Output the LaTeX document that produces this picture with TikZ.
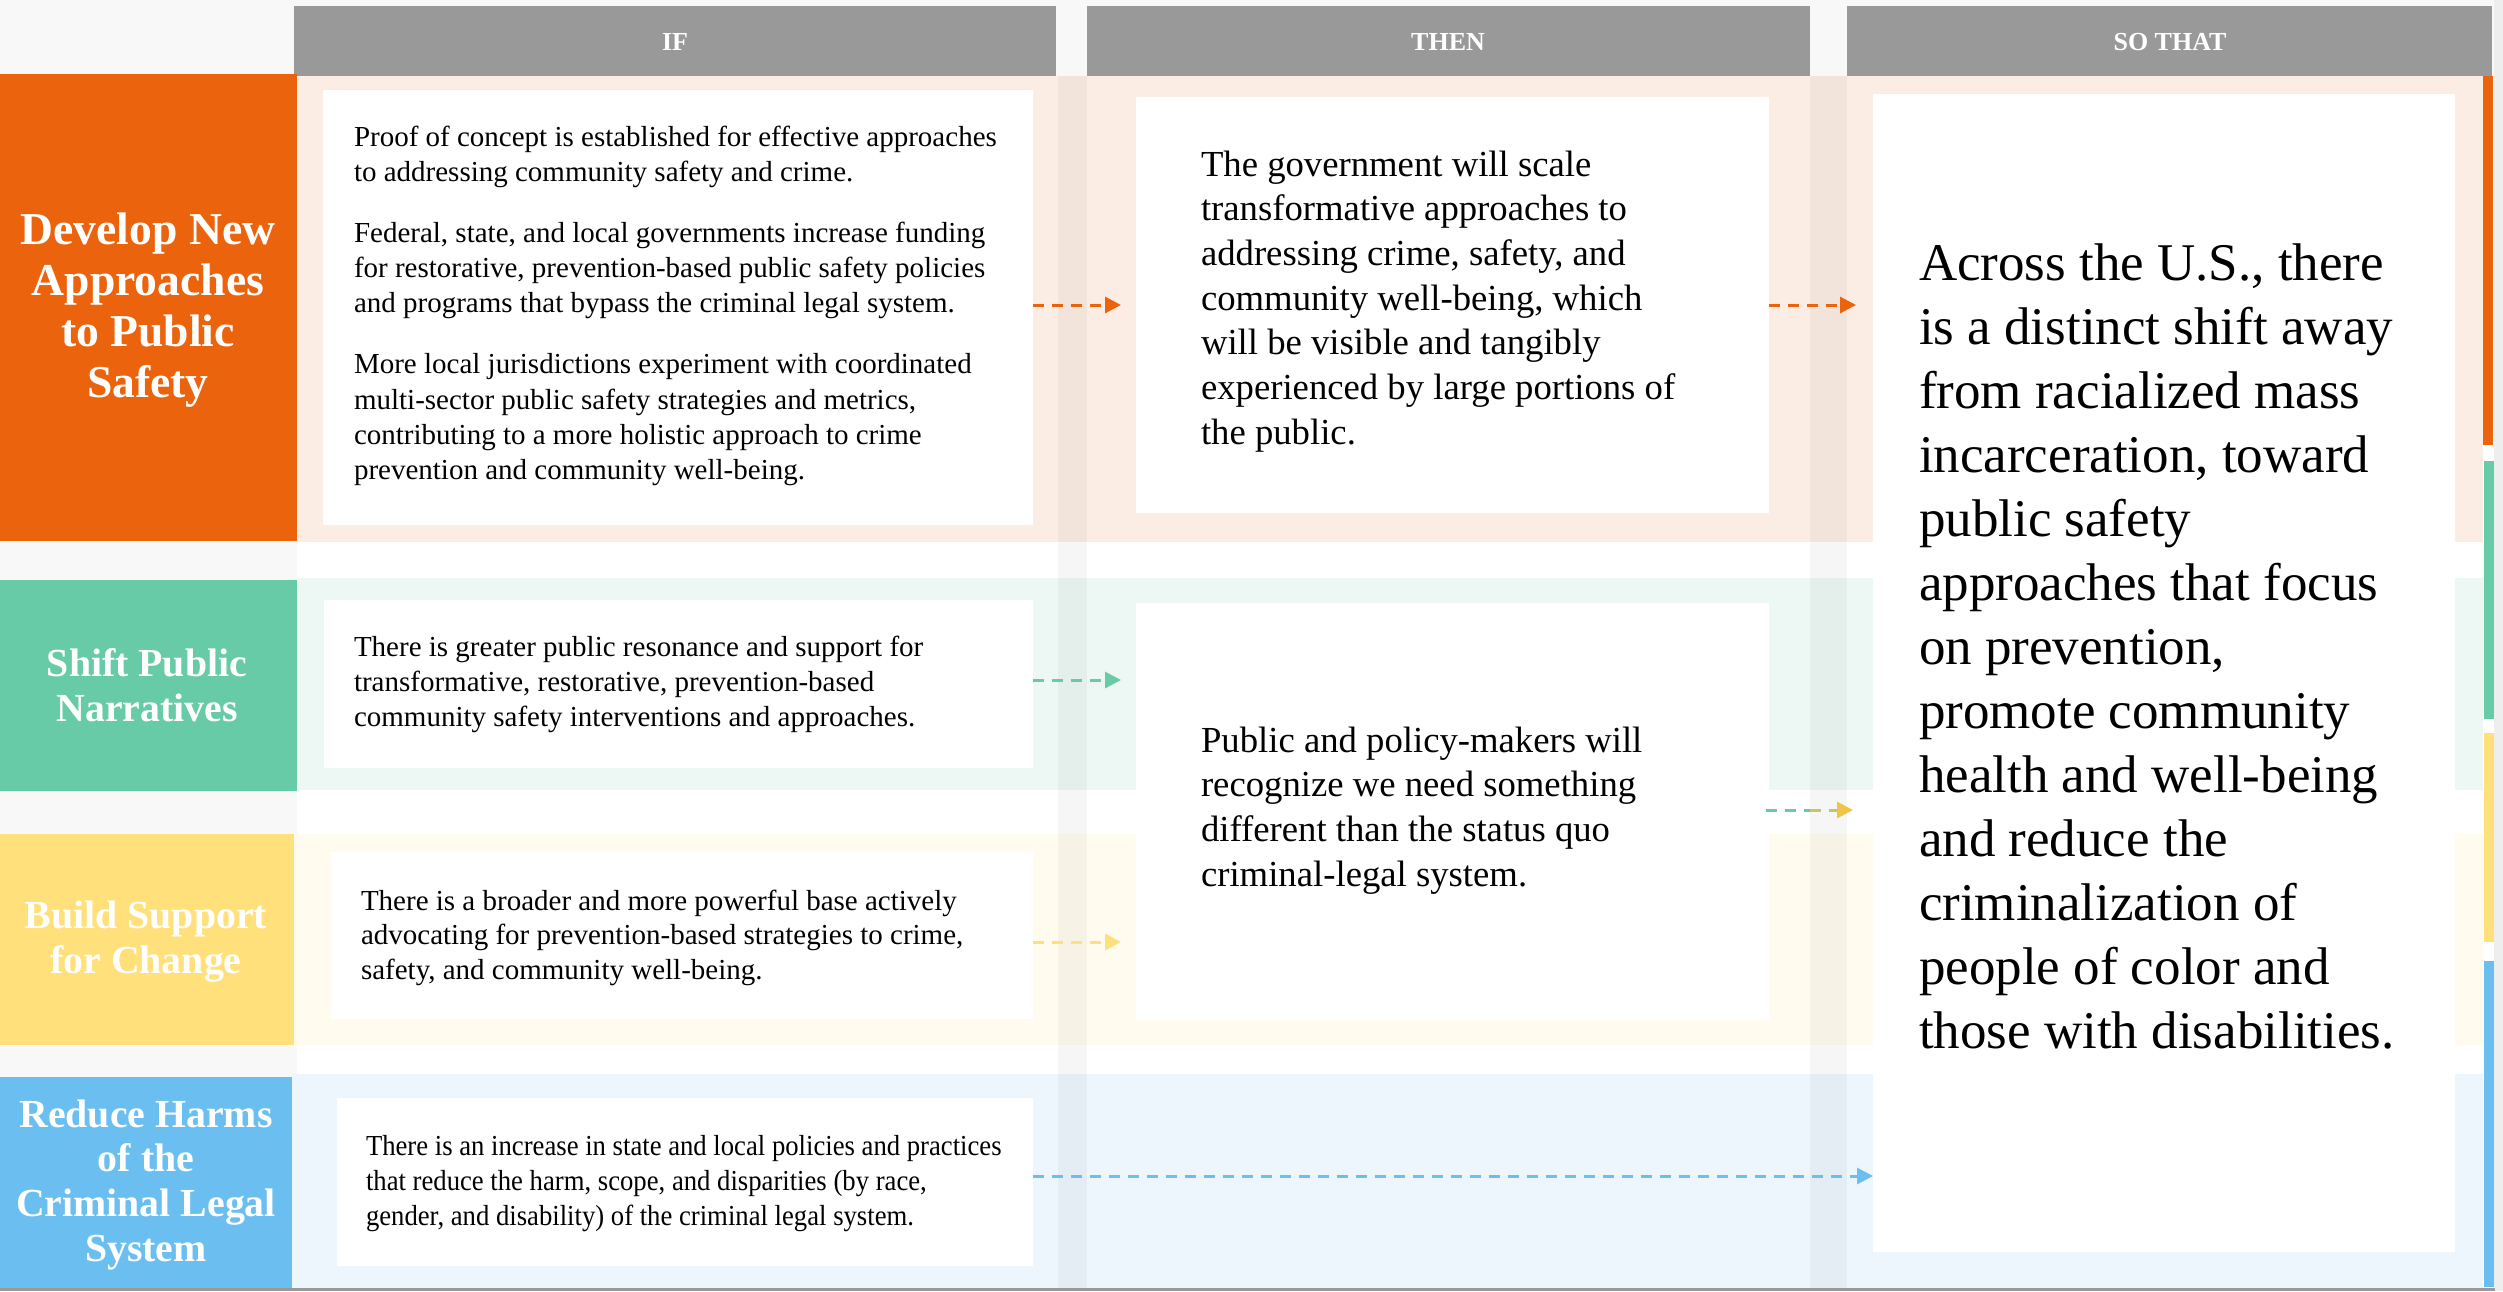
\documentclass[tikz,border=0pt]{standalone}
\usepackage{fontspec}
\setmainfont{Liberation Serif}
\newfontfamily\condserif{Liberation Serif}[FakeStretch=0.92]
\usetikzlibrary{arrows.meta,fit,calc}
\definecolor{hdrgray}{HTML}{999999}
\definecolor{orangeA}{HTML}{EC630D}
\definecolor{greenA}{HTML}{66CBA6}
\definecolor{yellowA}{HTML}{FFE07A}
\definecolor{blueA}{HTML}{6BBEF0}
\definecolor{orangeL}{HTML}{FBEDE4}
\definecolor{greenL}{HTML}{EDF7F3}
\definecolor{yellowL}{HTML}{FFFBEF}
\definecolor{blueL}{HTML}{EEF6FD}
\definecolor{bggray}{HTML}{F8F8F8}
\definecolor{rmgray}{HTML}{EEEEEE}
\definecolor{yellowD}{HTML}{EEC643}
\tikzset{
  panel/.style={inner sep=0pt, outer sep=0pt, draw=none},
  whitebox/.style={panel, fill=white},
  hdr/.style={panel, fill=hdrgray},
  hdrtext/.style={anchor=base, inner sep=0pt, outer sep=0pt, text=white, font=\bfseries\fontsize{13}{15}\selectfont},
  lbl/.style={anchor=base, inner sep=0pt, outer sep=0pt, text=white, font=\bfseries},
  body/.style={anchor=base west, inner sep=0pt, outer sep=0pt, text=black},
  flowline/.style={line width=1.5pt, dash pattern=on 5.5pt off 4pt},
  flow/.style={flowline, -{Triangle[length=8pt,width=8pt]}},
}
\begin{document}
\begin{tikzpicture}[x=0.5pt,y=-0.5pt]
\useasboundingbox (0,0) rectangle (2503,1291);
% backgrounds
\fill[white] (0,0) rectangle (2503,1291);
\fill[bggray] (0,0) rectangle (2494,76);
\fill[bggray] (0,0) rectangle (297,1288);
\fill[rmgray] (2494,0) rectangle (2503,1291);
% row backgrounds
\fill[orangeL] (297,76) rectangle (2483,542);
\fill[greenL] (297,578) rectangle (2483,790);
\fill[yellowL] (294,834) rectangle (2483,1045);
\fill[blueL] (292,1074) rectangle (2483,1288);
% column bands
\fill[black, opacity=0.035] (1058,76) rectangle (1087,1288);
\fill[black, opacity=0.035] (1810,76) rectangle (1847,1288);
% right strips
\fill[orangeA] (2483,76) rectangle (2493,445);
\fill[greenA] (2484,461) rectangle (2494,719);
\fill[yellowA] (2484,733) rectangle (2494,942);
\fill[blueA] (2484,961) rectangle (2494,1287);
% headers
\node[hdr, fit={(294,6) (1056,76)}] (hif) {};
\node[hdr, fit={(1087,6) (1810,76)}] (hthen) {};
\node[hdr, fit={(1847,6) (2492,76)}] (hso) {};
\node[hdrtext] (hift) at (675,50) {IF};
\node[hdrtext] (htht) at (1448,50) {THEN};
\node[hdrtext] (hsot) at (2170,50) {SO THAT};
% labels
\node[panel, fill=orangeA, fit={(0,74) (297,541)}] (lab1) {};
\node[panel, fill=greenA, fit={(0,580) (297,791)}] (lab2) {};
\node[panel, fill=yellowA, fit={(0,834) (294,1045)}] (lab3) {};
\node[panel, fill=blueA, fit={(0,1077) (292,1288)}] (lab4) {};
\node[lbl] (lt1) at (148,244) {\parbox[t]{148pt}{\centering\fontsize{22.8}{25.5}\selectfont Develop New\\ Approaches\\ to Public\\ Safety}};
\node[lbl] (lt2) at (147,676) {\parbox[t]{148pt}{\centering\fontsize{19.9}{22.5}\selectfont Shift Public\\ Narratives}};
\node[lbl] (lt3) at (146,928) {\parbox[t]{148pt}{\centering\fontsize{19.9}{22.5}\selectfont Build Support\\ for Change}};
\node[lbl] (lt4) at (146,1127) {\parbox[t]{148pt}{\centering\fontsize{19.9}{22.35}\selectfont Reduce Harms\\ of the\\ Criminal Legal\\ System}};
% white boxes
\node[whitebox, fit={(323,90) (1033,525)}] (if1) {};
\node[whitebox, fit={(324,600) (1033,768)}] (if2) {};
\node[whitebox, fit={(331,852) (1033,1019)}] (if3) {};
\node[whitebox, fit={(337,1098) (1033,1266)}] (if4) {};
\node[whitebox, fit={(1136,97) (1769,513)}] (then1) {};
\node[whitebox, fit={(1136,603) (1769,1020)}] (then2) {};
\node[whitebox, fit={(1873,94) (2455,1252)}] (sothat) {};
% IF texts
\node[body] (ift1) at (354,146) {\parbox[t]{340pt}{\raggedright\fontsize{14.5}{17.65}\selectfont
Proof of concept is established for effective approaches\\ to addressing community safety and crime.\par\vspace{12.85pt}
Federal, state, and local governments increase funding\\ for restorative, prevention-based public safety policies\\ and programs that bypass the criminal legal system.\par\vspace{12.85pt}
More local jurisdictions experiment with coordinated\\ multi-sector public safety strategies and metrics,\\ contributing to a more holistic approach to crime\\ prevention and community well-being.}};
\node[body] (ift2) at (354,656) {\parbox[t]{340pt}{\raggedright\fontsize{14.5}{17.5}\selectfont
There is greater public resonance and support for\\ transformative, restorative, prevention-based\\ community safety interventions and approaches.}};
\node[body] (ift3) at (361,910) {\parbox[t]{340pt}{\raggedright\fontsize{14.5}{17.25}\selectfont
There is a broader and more powerful base actively\\ advocating for prevention-based strategies to crime,\\ safety, and community well-being.}};
\node[body] (ift4) at (366,1155) {\parbox[t]{340pt}{\raggedright\condserif\fontsize{14.5}{17.5}\selectfont
There is an increase in state and local policies and practices\\ that reduce the harm, scope, and disparities (by race,\\ gender, and disability) of the criminal legal system.}};
% THEN texts
\node[body] (tht1) at (1201,176) {\parbox[t]{280pt}{\raggedright\fontsize{18.35}{22.35}\selectfont
The government will scale\\ transformative approaches to\\ addressing crime, safety, and\\ community well-being, which\\ will be visible and tangibly\\ experienced by large portions of\\ the public.}};
\node[body] (tht2) at (1201,752) {\parbox[t]{280pt}{\raggedright\fontsize{18.35}{22.35}\selectfont
Public and policy-makers will\\ recognize we need something\\ different than the status quo\\ criminal-legal system.}};
% SO THAT text
\node[body] (sot) at (1919,280) {\parbox[t]{262pt}{\raggedright\fontsize{26.5}{32.04}\selectfont
Across the U.S., there\\ is a distinct shift away\\ from racialized mass\\ incarceration, toward\\ public safety\\ approaches that focus\\ on prevention,\\ promote community\\ health and well-being\\ and reduce the\\ criminalization of\\ people of color and\\ those with disabilities.}};
% arrows
\draw[flow, orangeA] (if1.east |- then1.west) -- ([xshift=-7.5pt]then1.west);
\draw[flow, orangeA, shorten >=8.5pt] (then1.east) -- (then1.east -| sothat.west);
\draw[flow, greenA, shorten >=7.5pt] ($(if2.east)+(0,-4)$) -- ($(if2.east -| then2.west)+(0,-4)$);
\draw[flow, yellowA, shorten >=7.5pt] ($(if3.east)+(0,6.5)$) -- ($(if3.east -| then2.west)+(0,6.5)$);
\draw[flow, blueA] ($(if4.east)+(0,-6)$) -- ($(if4.east -| sothat.west)+(0,-6)$);
\coordinate (gend) at ($(then2.east -| sothat.west)+(-20,-1.5)$);
\coordinate (gstart) at ($(then2.east)+(-3,-1.5)$);
\coordinate (gmid) at ($(gstart)!0.5!(gend)$);
\draw[flowline, greenA] (gstart) -- (gmid);
\draw[flowline, greenA!30!yellowD, -{Triangle[length=8pt,width=8pt,color=yellowD]}] (gmid) -- (gend);
% bottom line
\fill[hdrgray] (0,1288) rectangle (2495,1291);
\end{tikzpicture}
\end{document}
